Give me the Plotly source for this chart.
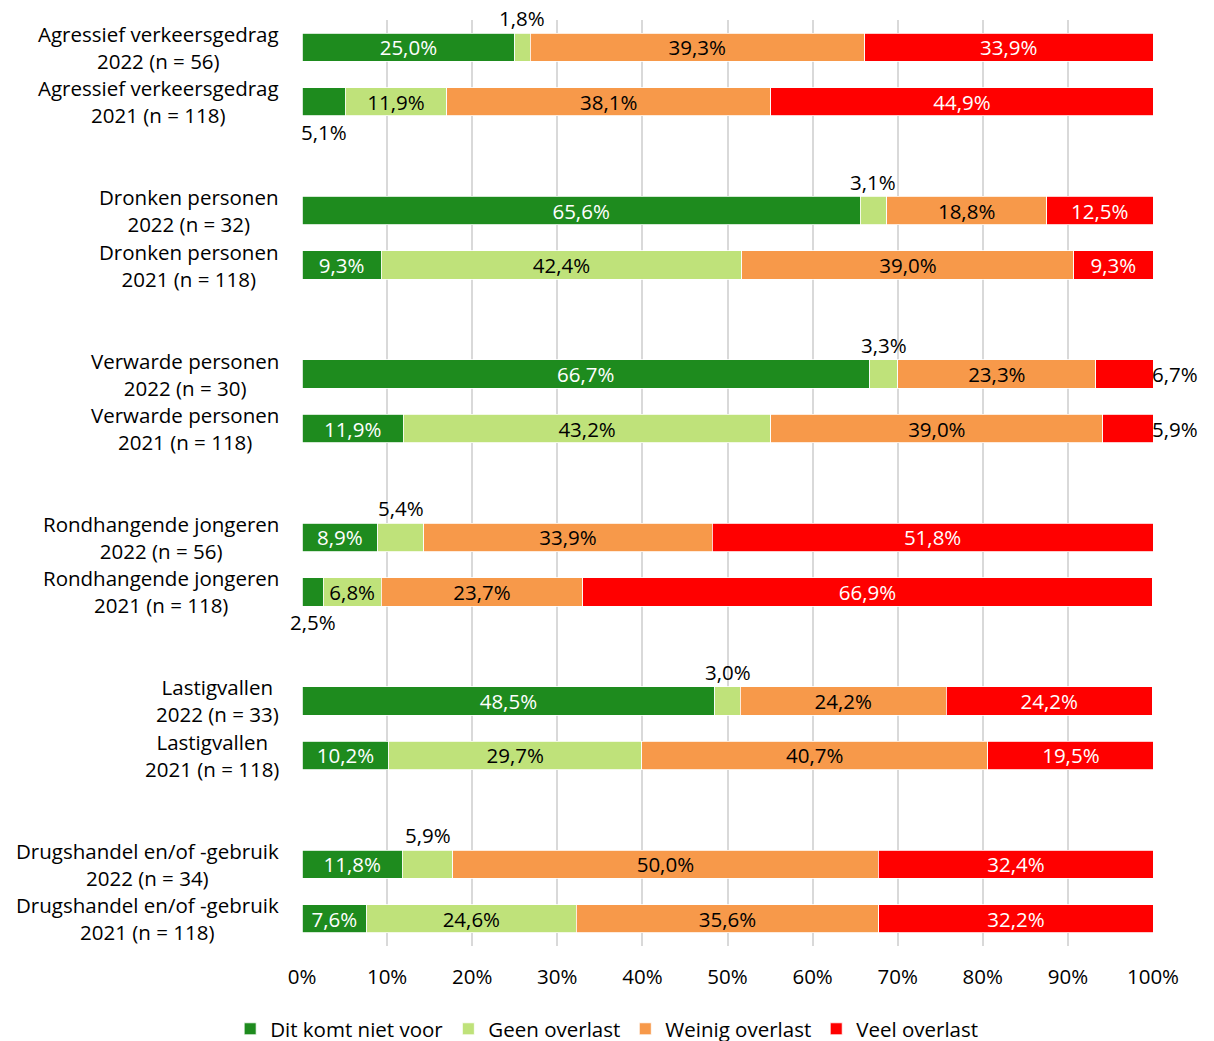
import plotly.graph_objects as go

categories = [
    "Agressief verkeersgedrag<br>2022 (n = 56)",
    "Agressief verkeersgedrag<br>2021 (n = 118)",
    "Dronken personen<br>2022 (n = 32)",
    "Dronken personen<br>2021 (n = 118)",
    "Verwarde personen<br>2022 (n = 30)",
    "Verwarde personen<br>2021 (n = 118)",
    "Rondhangende jongeren<br>2022 (n = 56)",
    "Rondhangende jongeren<br>2021 (n = 118)",
    "Lastigvallen<br>2022 (n = 33)",
    "Lastigvallen<br>2021 (n = 118)",
    "Drugshandel en/of -gebruik<br>2022 (n = 34)",
    "Drugshandel en/of -gebruik<br>2021 (n = 118)",
]
series_names = ["Dit komt niet voor", "Geen overlast", "Weinig overlast", "Veel overlast"]
dit_komt_niet_voor = [25.0, 5.1, 65.6, 9.3, 66.7, 11.9, 8.9, 2.5, 48.5, 10.2, 11.8, 7.6]
geen_overlast = [1.8, 11.9, 3.1, 42.4, 3.3, 43.2, 5.4, 6.8, 3.0, 29.7, 5.9, 24.6]
weinig_overlast = [39.3, 38.1, 18.8, 39.0, 23.3, 39.0, 33.9, 23.7, 24.2, 40.7, 50.0, 35.6]
veel_overlast = [33.9, 44.9, 12.5, 9.3, 6.7, 5.9, 51.8, 66.9, 24.2, 19.5, 32.4, 32.2]
x_ticks = [0, 10, 20, 30, 40, 50, 60, 70, 80, 90, 100]

colors = ["#1e8b1e", "#bfe27a", "#f7994a", "#ff0000"]
text_colors = ["white", "black", "black", "white"]
series = [dit_komt_niet_voor, geen_overlast, weinig_overlast, veel_overlast]

# row positions: pairs separated by an empty slot
ypos = []
for i in range(len(categories) // 2):
    ypos += [3 * i, 3 * i + 1]

FONT = "Open Sans"
FS = 20.5

def fmt(v):
    return f"{v:.1f}".replace(".", ",") + "%"

fig = go.Figure()
annotations = []
cum = [0.0] * len(categories)
for s_idx, (name, vals) in enumerate(zip(series_names, series)):
    texts = []
    for r, v in enumerate(vals):
        inside = v > 6.75
        texts.append(fmt(v) if inside else "")
        if not inside:
            center = cum[r] + v / 2
            if s_idx == 3:
                annotations.append(dict(x=cum[r] + v, y=ypos[r], xref="x", yref="y",
                                        text=fmt(v), showarrow=False, xanchor="left",
                                        xshift=-3,
                                        font=dict(family=FONT, size=FS, color="black")))
            else:
                below = (s_idx == 0)
                annotations.append(dict(x=center, y=ypos[r], xref="x", yref="y",
                                        text=fmt(v), showarrow=False, xanchor="center",
                                        yshift=-30 if below else 29,
                                        font=dict(family=FONT, size=FS, color="black")))
    fig.add_trace(go.Bar(
        y=ypos, x=vals, name=name, orientation="h",
        marker=dict(color=colors[s_idx], line=dict(color="white", width=0.8)),
        text=texts, textposition="inside", insidetextanchor="middle",
        constraintext="none", textangle=0,
        textfont=dict(family=FONT, size=FS, color=text_colors[s_idx]),
        width=0.52, hoverinfo="x+name",
    ))
    cum = [c + v for c, v in zip(cum, vals)]

for r, cat in enumerate(categories):
    annotations.append(dict(x=-0.025, y=ypos[r], xref="paper", yref="y",
                            text=cat, showarrow=False, xanchor="right", yanchor="middle",
                            align="center",
                            font=dict(family=FONT, size=FS, color="black")))

fig.update_layout(
    barmode="stack",
    width=1214, height=1041,
    margin=dict(l=294, r=69, t=12, b=103, autoexpand=False),
    plot_bgcolor="white", paper_bgcolor="white",
    font=dict(family=FONT, size=FS, color="black"),
    xaxis=dict(range=[0, 100], tickvals=x_ticks,
               ticktext=[f"{t}%" for t in x_ticks],
               showgrid=True, gridcolor="#d9d9d9", gridwidth=1.5,
               zeroline=False, showline=False, ticks="",
               ticklabelstandoff=16,
               tickfont=dict(family=FONT, size=FS)),
    yaxis=dict(range=[16.5, -0.5], showticklabels=False, showgrid=False,
               zeroline=False, showline=False, ticks=""),
    legend=dict(orientation="h", x=0.358, xanchor="center", y=-0.0896, yanchor="middle",
                font=dict(family=FONT, size=FS), traceorder="normal",
                itemwidth=30),
    annotations=annotations,
    showlegend=True,
)

fig.write_html("out.html")
